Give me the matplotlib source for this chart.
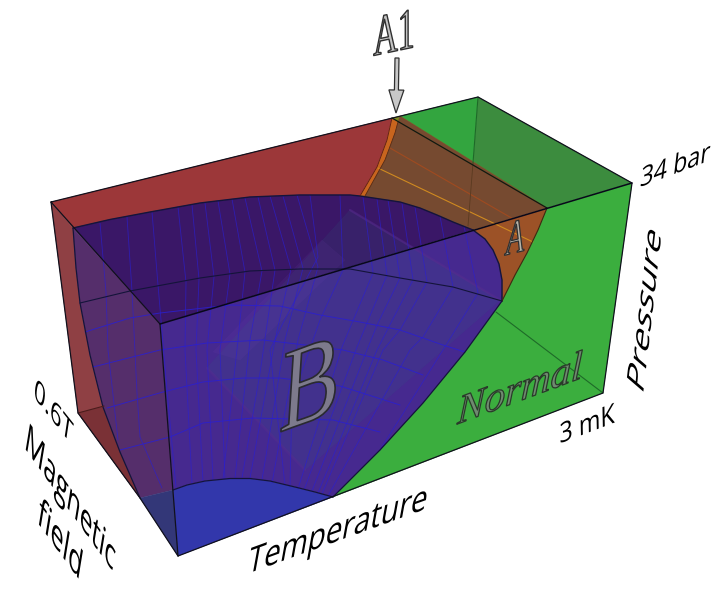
import matplotlib
matplotlib.use('Agg')
import matplotlib.pyplot as plt
import matplotlib.patheffects as pe
from matplotlib.patches import Polygon
from matplotlib.transforms import Affine2D

# box corners (pixels)
front_bottom_left = (178, 556)
front_top_left = (160, 324)
front_bottom_right = (603, 393)
front_top_right = (632, 183)
back_bottom_left = (78, 413)
back_top_left = (51, 202)
back_top_right = (478, 97)
a1_point = (392, 118)
a1_point2 = (400, 116)
ab_top = (473, 230)
ab_right = (547, 208)
hidden_cross = (473, 163)
arch_left = (173, 490)
arch_right = (333, 497)
left_low = (140, 498)

# phase boundaries
top_curve = [(73, 228), (110, 219.5), (150, 212), (200, 203), (250, 197), (300, 195), (350, 195), (360, 196),
             (400, 202), (420, 208), (437, 215), (453, 222), (473, 230)]
ab_curve = [(473, 230), (485, 239), (493, 250), (499, 264), (502, 280), (502, 301)]
left_curve = [(73, 228), (76, 268), (80, 303), (90, 355), (103, 407), (120, 452), (140, 498)]
arch = [(173, 490), (187, 485), (205, 481), (230, 478.5), (250, 478.5), (270, 481), (297, 487.5), (315, 492), (333, 497)]
normal_curve = [(333, 497), (380, 450), (423, 403), (465, 352), (502, 301)]
a_normal = [(502, 301), (515, 275), (527, 253), (538, 230), (547, 208)]
a1_left = [(392, 118), (387, 140), (377, 167), (360, 196)]
a1_right = [(398, 122), (395, 133), (385, 160), (365, 196)]
crease = [(80, 303), (130, 291), (200, 278), (250, 271), (300, 269), (350, 269), (400, 278), (453, 287), (502, 301)]

# blue grid on the B surface, top to bottom
radial_lines = [
    [(100, 223), (106, 292), (108, 350), (118, 440)],
    [(127, 217), (132, 291), (137, 393), (140, 437), (162, 488)],
    [(152, 212), (158, 285), (167, 390), (176, 487)],
    [(178, 207), (186, 282), (185, 350), (192, 483)],
    [(192, 205), (199, 279), (196, 350), (203, 482)],
    [(205, 203), (214, 277), (207, 350), (213, 480)],
    [(218, 201), (230, 274), (220, 350), (225, 479)],
    [(232, 199), (245, 272), (238, 340), (223, 479)],
    [(245, 198), (262, 271), (250, 340), (235, 478)],
    [(258, 197), (275, 270), (260, 373), (242, 478)],
    [(270, 196), (291, 269), (275, 340), (250, 478)],
    [(283, 196), (303, 268), (285, 340), (262, 480)],
    [(297, 195), (318, 267), (298, 340), (272, 483)],
    [(310, 195), (318, 257), (283, 323), (270, 350), (285, 485)],
    [(340, 195), (343, 270), (320, 320), (292, 400), (290, 487)],
    [(363, 197), (373, 273), (342, 347), (298, 489)],
    [(377, 199), (387, 275), (357, 347), (304, 490)],
    [(388, 200), (400, 278), (378, 323), (367, 350), (312, 491)],
    [(402, 203), (413, 280), (377, 350), (318, 493)],
    [(415, 207), (427, 282), (400, 330), (383, 350), (322, 494)],
    [(440, 216), (453, 287), (423, 337), (410, 350), (328, 496)],
    [(464, 226), (478, 293), (443, 350), (380, 450)],
]
arc_lines = [
    [(85, 332), (130, 318), (160, 313), (230, 305), (280, 306), (320, 315), (360, 322), (400, 330), (443, 345), (465, 352)],
    [(93, 367), (160, 350), (207, 343), (263, 340), (305, 345), (343, 350), (383, 360), (423, 375)],
    [(107, 408), (163, 392), (203, 382), (243, 378), (280, 378), (340, 386), (400, 405)],
    [(120, 450), (170, 437), (203, 423), (253, 418), (333, 420), (380, 432)],
]
a_lines = [
    [(378, 168), (533, 242)],
    [(390, 148), (515, 220)],
]
see_through = [(207, 368), (350, 210), (500, 300), (305, 470)]
glow = [(213, 352), (322, 240), (345, 260), (240, 360)]

fig = plt.figure(figsize=(7.28, 5.98), dpi=100)
ax = fig.add_axes([0, 0, 1, 1])
ax.set_xlim(0, 728)
ax.set_ylim(598, 0)
ax.axis('off')


class Warp(pe.AbstractPathEffect):
    # shears the glyphs so the text lies on the faces of the box
    def __init__(self, x, y, u, v, edge=None, lw=0):
        super().__init__()
        self.warp = (Affine2D().translate(-x, -(598 - y))
                     + Affine2D.from_values(u[0], u[1], v[0], v[1], 0, 0)
                     + Affine2D().translate(x, 598 - y))
        self.edge = edge
        self.lw = lw

    def draw_path(self, renderer, gc, tpath, affine, rgbFace=None):
        gc0 = renderer.new_gc()
        gc0.copy_properties(gc)
        if self.edge:
            gc0.set_foreground(self.edge)
            gc0.set_linewidth(self.lw)
            gc0.set_joinstyle('round')
        else:
            gc0.set_linewidth(0)
        renderer.draw_path(gc0, tpath, affine + self.warp, rgbFace)
        gc0.restore()


def fill(points, color, z=1, alpha=1.0):
    ax.add_patch(Polygon(points, closed=True, fc=color, ec=color, lw=0.3, alpha=alpha, zorder=z))


def line(points, color='#10101c', lw=0.9, z=6, alpha=1.0):
    ax.plot([p[0] for p in points], [p[1] for p in points], color=color, lw=lw, alpha=alpha,
            zorder=z, solid_capstyle='round', solid_joinstyle='round')


def label(x, y, s, size, u, v, family='Open Sans', color='black', edge=None, lw=0, style='normal'):
    ax.text(x, y, s, fontsize=size, family=family, color=color, style=style, ha='center', va='center', zorder=8,
            path_effects=[Warp(x, y, u, v, edge, lw)])


# green faces
fill([back_top_right, front_top_right, ab_right, hidden_cross], '#3c8c3e')
fill([a1_point2, back_top_right, hidden_cross], '#33a53f')
fill([ab_right, front_top_right, front_bottom_right, arch_right] + normal_curve[1:] + a_normal[1:-1], '#3bae3e')

# red faces
fill([back_top_left, a1_point] + a1_left[1:] + top_curve[7::-1], '#9c3739')
fill([back_top_left] + left_curve + [back_bottom_left], '#8f4044')
fill([back_bottom_left, (103, 407), (120, 452), left_low], '#7a3136')

# A phase
fill(a1_left + a1_right[::-1], '#c8651e')
fill([a1_point, a1_point2, ab_right], '#7f8a20')
fill(a1_right + top_curve[7:] + [ab_right, a1_point2], '#764a30')
fill(ab_curve + a_normal[1:] + [ab_top], '#9c5227')

# B phase
fill(top_curve + [front_top_left], '#3a1767')
fill(left_curve + [arch_left, front_top_left], '#552e6b')
fill([front_top_left] + top_curve[-1:] + ab_curve[1:] + normal_curve[-2::-1] + arch[-2::-1], '#46298f')
fill(arch + [front_bottom_left], '#3237ab')
fill([left_low, arch_left, front_bottom_left], '#333778')
fill(see_through, '#2d6a80', z=2, alpha=0.13)
fill(glow, '#7a45b8', z=2, alpha=0.1)
line([see_through[1], see_through[2]], '#5a2a90', 1.6, 2, 0.5)
line([see_through[0], see_through[3]], '#5a2a90', 1.8, 2, 0.4)

# grid
for r in radial_lines:
    line(r, '#2a1fd0', 0.6, 3, 0.7)
for a in arc_lines:
    line(a, '#2a1fd0', 0.7, 3, 0.85)
line(a_lines[0], '#d08a20', 0.8, 3)
line(a_lines[1], '#a04a20', 0.8, 3)

# boundaries
line(top_curve, '#14143a', 1.0)
line(ab_curve, '#14143a', 1.0)
line(left_curve, '#14143a', 0.9)
line(arch, '#14143a', 0.9)
line(normal_curve, '#14143a', 0.9)
line(a_normal, '#3a2a10', 0.8)
line(a1_left, '#5a1a10', 0.6)
line(a1_right, '#5a2a10', 0.6)
line(crease, '#14143a', 0.8)

# hidden box edges
line([back_bottom_left, (104, 406)], '#4a1c1c', 0.8)
line([front_bottom_right, (496, 312)], '#1e6a28', 0.8)
line([back_top_right, hidden_cross], '#1e6a28', 0.8)
line([hidden_cross, (468, 226)], '#5a3a20', 0.6)
line([a1_point, ab_right], '#101a10', 0.9)

# visible box edges
line([back_top_left, back_top_right, front_top_right, front_bottom_right, front_bottom_left, front_top_left,
      back_top_left, back_bottom_left, left_low, front_bottom_left])
line([front_top_left, front_top_right], '#08081a', 1.1)

# axis labels
label(338, 532, 'Temperature', 24, (0.88, 0.32), (0.2, 1.1))
label(646, 310, 'Pressure', 23, (0.14, 1.22), (-0.72, 0.62))
label(70, 500, 'Magnetic', 24, (0.63, -0.88), (0.18, 1.1))
label(60, 542, 'field', 24, (0.65, -0.89), (0.18, 1.1))
label(53, 413, '0.6T', 20, (0.7, -0.88), (0.15, 1.0))
label(587, 426, '3 mK', 20, (0.84, 0.32), (-0.02, 1.0))
label(675, 167, '34 bar', 20, (0.84, 0.32), (0.12, 1.0))

# phase names
label(310, 393, 'B', 92, (0.7, 0.26), (0.06, 0.93), 'Liberation Serif', '#7d7a8c', '#2a2a30', 1.2)
label(520, 391, 'Normal', 28, (1.05, 0.39), (0.05, 1.05), 'Liberation Serif', '#6f8a70', '#2a3a2a', 0.9, 'italic')
label(515, 241, 'A', 30, (0.7, 0.17), (0.0, 1.15), 'Liberation Serif', '#b8b4a8', '#303030', 0.9, 'italic')
label(394, 37, 'A1', 32, (0.76, 0.16), (0.0, 1.3), 'Liberation Serif', '#c4c4c4', '#303030', 1.0)
ax.arrow(397, 58, -1, 55, width=4, head_width=15, head_length=23, length_includes_head=True,
         fc='#c8c8c8', ec='#303030', lw=0.9, zorder=8)

fig.savefig('out.png', dpi=100, facecolor='white')
